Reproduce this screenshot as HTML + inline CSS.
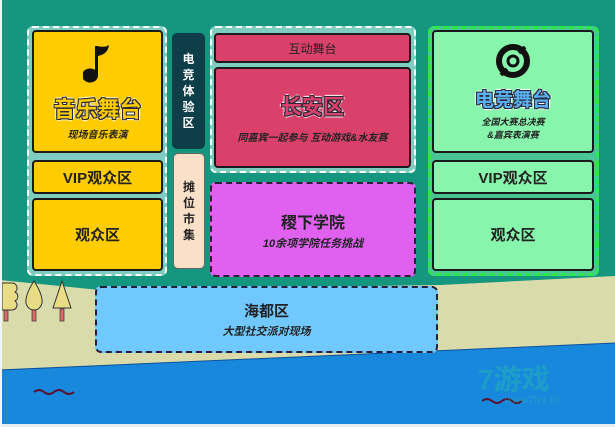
<!DOCTYPE html>
<html><head><meta charset="utf-8"><style>
body{margin:0;width:615px;height:427px;overflow:hidden;background:#fff;font-family:"Liberation Sans","Noto Sans CJK SC",sans-serif}
.a{position:absolute;box-sizing:border-box}
.c{display:flex;flex-direction:column;align-items:center;justify-content:center;text-align:center;font-weight:bold}
.bx{border:2px solid #1a1a1a;border-radius:4px}
.t{text-shadow:1px 0 0 #2a2a3a,-1px 0 0 #2a2a3a,0 1px 0 #2a2a3a,0 -1px 0 #2a2a3a,1px 1px 0 #2a2a3a,-1px -1px 0 #2a2a3a,1px -1px 0 #2a2a3a,-1px 1px 0 #2a2a3a,2px 0 1px #fff,-2px 0 1px #fff,0 2px 1px #fff,0 -2px 1px #fff}
</style></head><body>
<div class="a" style="left:2px;top:0;width:613px;height:424px;background:#14967f;overflow:hidden">
<svg class="a" style="left:-2px;top:0" width="615" height="427">
<polygon points="0,280 100,290 440,285 615,276 615,427 0,427" fill="#d9dcaa"/>
<polygon points="0,370 615,343 615,427 0,427" fill="#1788dc"/>
<line x1="0" y1="370" x2="615" y2="343" stroke="#0f4f9a" stroke-width="1"/>
<path d="M34,392 q5,-4 10,0 q5,4 10,0 q5,-4 10,0 q5,4 10,0" stroke="#5a1030" stroke-width="2" fill="none"/>
<path d="M482,401 q5,-4 10,0 q5,4 10,0 q5,-4 10,0 q5,4 10,0" stroke="#5a1030" stroke-width="2" fill="none"/>
<rect x="4" y="309" width="4" height="12" fill="#d86a6a" stroke="#333" stroke-width=".7"/>
<path d="M2,283 h10 a5,5 0 0 1 3,9 a5,5 0 0 1 0,9 a5,5 0 0 1 -3,9 h-10z" fill="#e8dc84" stroke="#333"/>
<rect x="32" y="309" width="4" height="12" fill="#d86a6a" stroke="#333" stroke-width=".7"/>
<path d="M34,281 q9,14 8,22 q-2,7 -8,7 q-6,0 -8,-7 q-1,-8 8,-22z" fill="#e8dc84" stroke="#333"/>
<rect x="60" y="309" width="4" height="12" fill="#d86a6a" stroke="#333" stroke-width=".7"/>
<polygon points="62,281 71,308 53,308" fill="#e8dc84" stroke="#333"/>
</svg>
</div>
<div class="a" style="left:0;top:424px;width:615px;height:3px;background:#e8eef0"></div>
<div class="a" style="left:0;top:0;width:2px;height:427px;background:#f2f5f5"></div>

<div class="a" style="left:27px;top:26px;width:140px;height:250px;background:#7fcdc0;border:2px dashed #fff;border-radius:6px"></div>
<div class="a bx c" style="left:32px;top:30px;width:131px;height:123px;background:#ffcc00">
<svg width="30" height="44" viewBox="0 0 30 44"><path d="M12,4 L15,4 L15,34 A8,7 0 1 1 12,28 Z" fill="#111"/><path d="M14,4 Q22,6 26,3 Q25,12 15,14Z" fill="#111"/></svg>
<div class="t" style="font-size:22px;color:#ffcc00;margin-top:6px">音乐舞台</div>
<div style="font-size:10px;font-style:italic;color:#222;margin-top:2px">现场音乐表演</div></div>
<div class="a bx c" style="left:32px;top:160px;width:131px;height:34px;background:#ffcc00;font-size:15px;color:#222">VIP观众区</div>
<div class="a bx c" style="left:32px;top:198px;width:131px;height:73px;background:#ffcc00;font-size:15px;color:#222">观众区</div>

<div class="a c" style="left:172px;top:33px;width:33px;height:116px;background:#0e3f48;border-radius:5px;color:#fff;font-size:12px;line-height:16px">电<br>竞<br>体<br>验<br>区</div>
<div class="a c" style="left:173px;top:153px;width:32px;height:116px;background:#fbe0c8;border:1px solid #666;border-radius:5px;color:#222;font-size:12px;line-height:16px">摊<br>位<br>市<br>集</div>

<div class="a" style="left:210px;top:26px;width:206px;height:147px;background:#7fcdc0;border:2px dashed #fff;border-radius:6px"></div>
<div class="a bx c" style="left:214px;top:33px;width:197px;height:30px;background:#d9416a;font-size:12px;color:#222;font-weight:normal">互动舞台</div>
<div class="a bx c" style="left:214px;top:67px;width:197px;height:101px;background:#d9416a">
<div class="t" style="font-size:21px;color:#d9416a">长安区</div>
<div style="font-size:10px;font-style:italic;color:#222;margin-top:8px">同嘉宾一起参与 互动游戏&amp;水友赛</div></div>
<div class="a c" style="left:210px;top:182px;width:206px;height:95px;background:#e060f0;border:2px dashed #2a1f3a;border-radius:6px">
<div style="font-size:16px;color:#222">稷下学院</div>
<div style="font-size:11px;font-style:italic;color:#222;margin-top:2px">10余项学院任务挑战</div></div>

<div class="a" style="left:428px;top:26px;width:171px;height:250px;background:#4ac596;border:3px dashed #2de84a;border-radius:6px"></div>
<div class="a bx c" style="left:432px;top:30px;width:162px;height:123px;background:#88f5ad">
<svg width="40" height="40" viewBox="0 0 40 40"><circle cx="20" cy="20" r="14" fill="none" stroke="#111" stroke-width="6"/><circle cx="20" cy="20" r="5" fill="none" stroke="#111" stroke-width="3"/><path d="M8,34 L14,28 M32,6 L26,12" stroke="#111" stroke-width="4"/></svg>
<div class="t" style="font-size:19px;color:#5ab0f0;margin-top:4px">电竞舞台</div>
<div style="font-size:9px;font-style:italic;color:#222;margin-top:4px;line-height:13px">全国大赛总决赛<br>&amp;嘉宾表演赛</div></div>
<div class="a bx c" style="left:432px;top:160px;width:162px;height:34px;background:#88f5ad;font-size:15px;color:#222">VIP观众区</div>
<div class="a bx c" style="left:432px;top:198px;width:162px;height:73px;background:#88f5ad;font-size:15px;color:#222">观众区</div>

<div class="a c" style="left:95px;top:286px;width:343px;height:67px;background:#70c8fc;border:2px dashed #2a1f3a;border-radius:6px">
<div style="font-size:15px;color:#222">海都区</div>
<div style="font-size:11px;font-style:italic;color:#222;margin-top:2px">大型社交派对现场</div></div>

<div class="a" style="left:478px;top:358px;font-size:28px;color:rgba(40,190,170,.4);font-weight:bold">7游戏</div>
<div class="a" style="left:505px;top:395px;font-size:10px;color:rgba(40,190,170,.4)">www.7lyx.cn</div>
</body></html>
